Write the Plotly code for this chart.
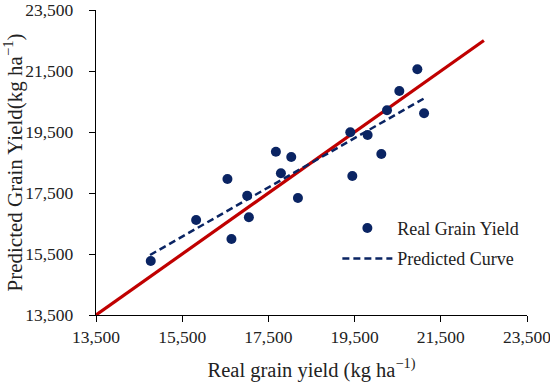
import plotly.graph_objects as go

# Data
real_yield = [14770, 15823, 16550, 16643, 17008, 17047, 17674, 17790, 18030, 18185,
              19400, 19447, 19802, 20120, 20252, 20538, 20956, 21112]
pred_yield = [15270, 16615, 17959, 15992, 17412, 16703, 18854, 18146, 18680, 17336,
              19490, 18057, 19402, 18779, 20211, 20844, 21556, 20113]
curve_x = [14754, 21142]
curve_y = [15467, 20625]
line_1to1 = [13500, 22500]
tick_vals = [13500, 15500, 17500, 19500, 21500, 23500]
tick_text = ["13,500", "15,500", "17,500", "19,500", "21,500", "23,500"]

FONT = "Liberation Serif"
navy = "#0a2463"
red = "#c00000"

fig = go.Figure()
fig.add_trace(go.Scatter(x=line_1to1, y=line_1to1, mode="lines",
                         line=dict(color=red, width=3.2), showlegend=False,
                         hoverinfo="skip"))
fig.add_trace(go.Scatter(x=real_yield, y=pred_yield, mode="markers",
                         marker=dict(color=navy, size=10),
                         name="Real Grain Yield", legendgroup="a"))
fig.add_trace(go.Scatter(x=curve_x, y=curve_y, mode="lines",
                         line=dict(color=navy, width=2.5, dash="7px,4px"),
                         name="Predicted Curve", legendgroup="b"))

axis_common = dict(
    range=[13500, 23500], tickvals=tick_vals, ticktext=tick_text,
    showgrid=False, zeroline=False, showline=True, linecolor="black",
    linewidth=1.3, ticks="outside", ticklen=6, tickcolor="black",
    tickfont=dict(family=FONT, size=17.5, color="#222"),
    automargin=False, ticklabeloverflow="allow",
)

fig.update_layout(
    width=550, height=382,
    margin=dict(l=96, r=23, t=10, b=67),
    paper_bgcolor="white", plot_bgcolor="white",
    font=dict(family=FONT, size=17, color="#222"),
    xaxis=dict(**axis_common,
               title=dict(text="Real grain yield (kg ha<sup>−1)</sup>",
                          font=dict(family=FONT, size=20.5), standoff=19)),
    yaxis=dict(**axis_common, ticklabelstandoff=12,
               title=dict(text="Predicted Grain Yield(kg ha<sup>−1</sup>)",
                          font=dict(family=FONT, size=21), standoff=5)),
    legend=dict(x=0.56, y=0.345, xanchor="left", yanchor="top",
                bgcolor="rgba(0,0,0,0)", font=dict(family=FONT, size=18),
                tracegroupgap=4, traceorder="grouped", itemwidth=50),
)

fig.write_html("out.html", config={"displayModeBar": False},
               post_script="document.body.style.margin='0';")
